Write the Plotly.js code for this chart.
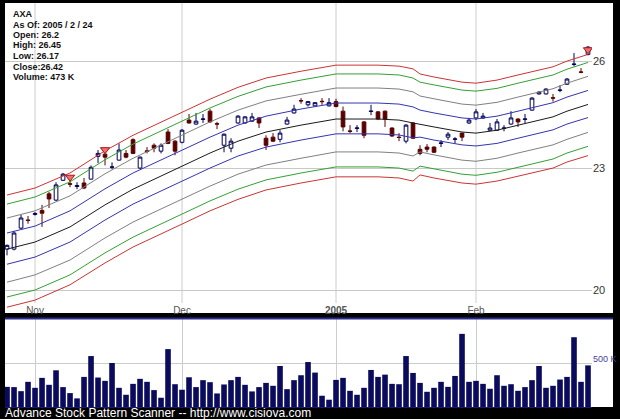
<!DOCTYPE html>
<html><head><meta charset="utf-8">
<script src="https://cdn.plot.ly/plotly-3.0.1.min.js"></script>
<style>html,body{margin:0;padding:0;background:#000;}#chart{width:620px;height:419px;}</style>
</head><body><div id="chart"></div>
<script>
const dates = ['2004-10-26','2004-10-27','2004-10-28','2004-10-29',
'2004-11-01','2004-11-02','2004-11-03','2004-11-04','2004-11-05','2004-11-08','2004-11-09','2004-11-10','2004-11-11','2004-11-12',
'2004-11-15','2004-11-16','2004-11-17','2004-11-18','2004-11-19','2004-11-22','2004-11-23','2004-11-24','2004-11-26','2004-11-29','2004-11-30',
'2004-12-01','2004-12-02','2004-12-03','2004-12-06','2004-12-07','2004-12-08','2004-12-09','2004-12-10','2004-12-13','2004-12-14','2004-12-15',
'2004-12-16','2004-12-17','2004-12-20','2004-12-21','2004-12-22','2004-12-23','2004-12-27','2004-12-28','2004-12-29','2004-12-30','2004-12-31',
'2005-01-03','2005-01-04','2005-01-05','2005-01-06','2005-01-07','2005-01-10','2005-01-11','2005-01-12','2005-01-13','2005-01-14','2005-01-18',
'2005-01-19','2005-01-20','2005-01-21','2005-01-24','2005-01-25','2005-01-26','2005-01-27','2005-01-28','2005-01-31',
'2005-02-01','2005-02-02','2005-02-03','2005-02-04','2005-02-07','2005-02-08','2005-02-09','2005-02-10','2005-02-11','2005-02-14','2005-02-15',
'2005-02-16','2005-02-17','2005-02-18','2005-02-22','2005-02-23','2005-02-24'];

const openP  = [20.96,20.96,21.47,21.67,21.81,21.91,22.33,22.17,22.68,22.59,22.52,22.61,22.71,23.31,23.37,23.02,23.21,23.39,23.76,23.00,23.46,23.61,23.45,23.97,23.72,
23.69,24.30,24.19,24.32,24.55,24.20,23.61,23.53,24.22,24.22,24.27,24.36,23.80,23.83,23.77,24.19,24.50,24.85,24.73,24.70,24.83,24.70,
24.82,24.55,24.00,24.07,24.25,24.54,24.53,24.55,24.08,23.83,23.72,24.22,23.50,23.56,23.56,23.66,23.83,23.77,23.94,24.22,
24.36,24.36,24.02,24.02,24.07,24.19,24.33,24.32,24.58,25.04,25.04,24.93,25.14,25.32,25.90,25.68,26.20];
const highP  = [21.07,21.40,21.80,21.77,21.87,22.05,22.38,22.63,22.87,22.68,22.63,22.74,23.07,23.48,23.45,23.15,23.66,23.48,23.80,23.31,23.56,23.66,23.66,24.05,23.75,
24.05,24.47,24.50,24.47,24.61,24.25,23.93,23.80,24.44,24.41,24.50,24.38,23.88,23.94,24.02,24.39,24.73,24.92,24.84,24.81,24.92,24.92,
24.90,24.68,24.16,24.16,24.27,24.73,24.55,24.57,24.10,23.94,24.19,24.24,23.61,23.64,23.58,23.75,23.97,23.83,23.95,24.36,
24.61,24.50,24.22,24.33,24.16,24.55,24.35,24.47,24.95,25.12,25.20,25.04,25.29,25.50,26.24,25.79,26.45];
const lowP   = [20.81,20.93,21.45,21.58,21.78,21.50,21.97,22.15,22.66,22.50,22.45,22.45,22.70,23.13,23.07,22.97,23.20,23.26,23.37,22.98,23.39,23.42,23.39,23.64,23.34,
23.66,24.20,24.17,24.22,24.22,24.05,23.42,23.42,24.20,24.20,24.25,24.08,23.48,23.70,23.69,24.17,24.48,24.76,24.68,24.68,24.73,24.68,
24.66,23.99,23.94,23.97,23.80,24.44,24.30,24.11,23.84,23.72,23.66,23.78,23.34,23.42,23.40,23.56,23.75,23.66,23.72,24.19,
24.30,24.34,24.00,24.00,23.99,24.17,24.11,24.22,24.56,25.02,25.02,24.82,25.09,25.30,25.85,25.64,26.17];
const closeP = [21.05,21.35,21.72,21.66,21.83,21.84,22.20,22.56,22.84,22.58,22.54,22.48,23.02,23.39,23.29,23.03,23.48,23.29,23.39,23.29,23.44,23.53,23.61,23.66,23.45,
24.02,24.22,24.27,24.33,24.25,24.19,23.91,23.72,24.41,24.39,24.39,24.22,23.61,23.72,23.94,24.30,24.61,24.84,24.82,24.79,24.82,24.79,
24.68,24.11,23.99,24.08,23.88,24.55,24.33,24.33,23.86,23.82,24.16,23.80,23.39,23.50,23.42,23.67,23.91,23.78,23.83,24.30,
24.53,24.41,24.08,24.25,24.08,24.36,24.25,24.33,24.92,25.09,25.18,24.92,25.15,25.47,25.91,25.67,26.42];
const volumeK = [229,226,180,286,218,331,252,417,226,158,98,342,579,335,297,500,218,139,263,320,286,192,105,658,259,
196,338,226,305,282,154,256,305,342,252,177,226,274,241,466,203,305,361,511,391,128,83,
308,331,184,139,218,421,342,368,263,259,579,387,274,173,218,286,229,353,831,286,
297,263,207,361,241,259,184,226,305,466,218,241,312,342,793,286,473];

const bandDates = ['2004-10-26','2004-11-01','2004-11-08','2004-11-15','2004-11-19','2004-11-26','2004-12-01','2004-12-07','2004-12-13','2004-12-17',
'2004-12-27','2005-01-03','2005-01-11','2005-01-14','2005-01-19','2005-01-20','2005-01-24','2005-01-28','2005-02-01','2005-02-04','2005-02-09',
'2005-02-14','2005-02-16','2005-02-18','2005-02-24'];
const bandCenter = [20.96,21.13,21.50,22.05,22.45,22.79,23.05,23.40,23.72,23.97,24.16,24.33,24.33,24.30,24.22,24.19,24.11,23.97,23.94,24.02,24.16,24.30,24.39,24.55,24.74];
const upper4 = [22.30,22.48,22.87,23.46,23.88,24.24,24.52,24.89,25.23,25.50,25.70,25.88,25.88,25.85,25.77,25.62,25.53,25.38,25.35,25.44,25.59,25.73,25.83,26.00,26.20];
const upper3 = [22.07,22.25,22.64,23.22,23.64,24.00,24.27,24.64,24.97,25.24,25.44,25.62,25.62,25.59,25.50,25.38,25.30,25.15,25.12,25.20,25.35,25.50,25.59,25.76,25.96];
const upper2 = [21.72,21.90,22.28,22.85,23.26,23.62,23.88,24.25,24.58,24.84,25.03,25.21,25.21,25.18,25.10,24.98,24.90,24.75,24.72,24.80,24.95,25.09,25.19,25.35,25.55];
const upper1 = [21.35,21.52,21.90,22.46,22.87,23.21,23.48,23.83,24.16,24.41,24.61,24.78,24.78,24.75,24.67,24.58,24.50,24.36,24.33,24.41,24.55,24.69,24.79,24.95,25.14];
const lower1 = [20.60,20.77,21.13,21.67,22.07,22.40,22.66,23.00,23.32,23.56,23.75,23.92,23.92,23.89,23.81,23.83,23.75,23.62,23.59,23.66,23.80,23.94,24.03,24.19,24.37];
const lower2 = [20.18,20.35,20.70,21.23,21.62,21.94,22.19,22.53,22.84,23.08,23.26,23.43,23.43,23.40,23.32,23.43,23.35,23.21,23.18,23.26,23.40,23.53,23.62,23.77,23.96];
const lower3 = [19.84,20.00,20.35,20.87,21.25,21.57,21.82,22.15,22.45,22.69,22.87,23.03,23.03,23.00,22.92,23.05,22.98,22.84,22.81,22.89,23.02,23.16,23.24,23.40,23.58];
const lower4 = [19.61,19.77,20.12,20.63,21.01,21.32,21.57,21.90,22.19,22.43,22.61,22.77,22.77,22.74,22.66,22.82,22.74,22.61,22.58,22.66,22.79,22.92,23.00,23.16,23.33];

const signalDates = ['2004-11-08','2004-11-15','2005-02-24'];
const signalPrices = [22.76, 23.49, 26.34];

const monthTickDates = ['2004-11-01','2004-12-01','2005-01-03','2005-02-01'];
const monthTickLabels = ['Nov','Dec','<b>2005</b>','Feb'];
const priceTicks = [20, 23, 26];
const volumeTick = [500];
const volumeTickLabel = '500 K';
const infoLines = ['AXA','As Of: 2005 / 2 / 24','Open: 26.2','High: 26.45','Low: 26.17','Close:26.42','Volume: 473 K'];
const footer = 'Advance Stock Pattern Scanner -- http://www.cisiova.com';

const FONT = 'Liberation Sans, Arial, sans-serif';
// pixel -> paper helpers (plot area spans x 5..592, y 3..407)
const px = v => (v - 5) / 587;
const py = v => (407 - v) / 404;

const bandSpec = [
  [upper4, '#cc3333'], [upper3, '#33a033'], [upper2, '#808080'], [upper1, '#3434b0'],
  [bandCenter, '#1a1a1a'],
  [lower1, '#3434b0'], [lower2, '#808080'], [lower3, '#33a033'], [lower4, '#cc3333']
];

const traces = [];
bandSpec.forEach(([arr, col]) => {
  traces.push({type:'scatter', mode:'lines', x: bandDates, y: arr, xaxis:'x', yaxis:'y',
    line:{color: col, width: 1}, hoverinfo:'skip'});
});
traces.push({
  type:'candlestick', x: dates, open: openP, high: highP, low: lowP, close: closeP,
  xaxis:'x', yaxis:'y', whiskerwidth: 0,
  increasing:{line:{color:'#00005a', width:1}, fillcolor:'#ffffff'},
  decreasing:{line:{color:'#5a0000', width:1}, fillcolor:'#5a0000'},
  hoverinfo:'skip'
});
traces.push({type:'scatter', mode:'markers', x: signalDates, y: signalPrices, xaxis:'x', yaxis:'y',
  marker:{symbol:'triangle-down', size:8, color:'#f07070', line:{color:'#b01010', width:1}}, hoverinfo:'skip'});
traces.push({type:'bar', x: dates, y: volumeK, xaxis:'x2', yaxis:'y2',
  marker:{color:'#0b0b5e', line:{width:0}}, hoverinfo:'skip'});

const shapes = [
  {type:'rect', xref:'paper', yref:'paper', x0:1, x1:px(613), y0:py(313), y1:py(3), fillcolor:'#ffffff', line:{width:0}, layer:'below'},
  {type:'rect', xref:'paper', yref:'paper', x0:1, x1:px(613), y0:py(407), y1:py(318), fillcolor:'#ffffff', line:{width:0}, layer:'below'},
  {type:'line', xref:'paper', yref:'paper', x0:px(5), x1:px(613), y0:py(318.5), y1:py(318.5), line:{color:'#2b2b8c', width:2}, layer:'above'}
];
monthTickDates.forEach(d => {
  const i = dates.indexOf(d);
  shapes.push({type:'line', xref:'x', yref:'paper', x0:i, x1:i, y0:py(303), y1:py(3), line:{color:'#cccccc', width:1}, layer:'below'});
});

const annotations = infoLines.map((t, k) => ({
  text: t, xref:'paper', yref:'paper', x: px(11), y: py(14 + 10.5*k), xanchor:'left', yanchor:'middle',
  showarrow:false, font:{family: FONT, size: 9, color:'#111', weight:'bold'}
}));
annotations.push({text: volumeTickLabel, xref:'paper', yref:'paper', x: px(591), y: py(359), xanchor:'left', yanchor:'middle',
  showarrow:false, font:{family: FONT, size: 9, color:'#44449a'}});
annotations.push({text: footer, xref:'paper', yref:'paper', x: px(3), y: py(413), xanchor:'left', yanchor:'middle',
  showarrow:false, font:{family: FONT, size: 12, color:'#ffffff'}});

const xRange = [-0.29, 83.57];
const layout = {
  width:620, height:419,
  margin:{l:5, r:28, t:3, b:12, pad:0},
  paper_bgcolor:'#000000', plot_bgcolor:'#ffffff',
  showlegend:false, hovermode:false, boxgap:0.25, bargap:0.2,
  font:{family: FONT, size:10, color:'#333'},
  xaxis:{type:'category', categoryorder:'array', categoryarray: dates, range: xRange, anchor:'y',
    rangeslider:{visible:false}, tickvals: monthTickDates, ticktext: monthTickLabels, ticks:'',
    ticklabelposition:'inside', ticklabelstandoff:-6, showgrid:false, zeroline:false, showline:false,
    tickfont:{family: FONT, size:10, color:'#555'}},
  yaxis:{type:'log', range:[Math.log10(19.48), Math.log10(27.79)], domain:[py(313), 1], side:'right', anchor:'x',
    tickvals: priceTicks, ticktext: priceTicks.map(String), ticks:'', showgrid:true, gridcolor:'#c8c8c8',
    zeroline:false, showline:false, tickfont:{family: FONT, size:11, color:'#333'}},
  xaxis2:{type:'category', categoryorder:'array', categoryarray: dates, range: xRange, anchor:'y2',
    tickvals: monthTickDates, showticklabels:false, ticks:'', showgrid:true, gridcolor:'#cccccc',
    showline:true, linecolor:'#1a1a6a', linewidth:1, zeroline:false},
  yaxis2:{range:[0, 1000], domain:[0, py(319)], side:'right', anchor:'x2', tickvals: volumeTick,
    showticklabels:false, ticks:'', showgrid:true, gridcolor:'#cccccc', zeroline:false, showline:false},
  shapes: shapes, annotations: annotations
};
Plotly.newPlot('chart', traces, layout, {staticPlot:true, displayModeBar:false});
</script>
</body></html>
